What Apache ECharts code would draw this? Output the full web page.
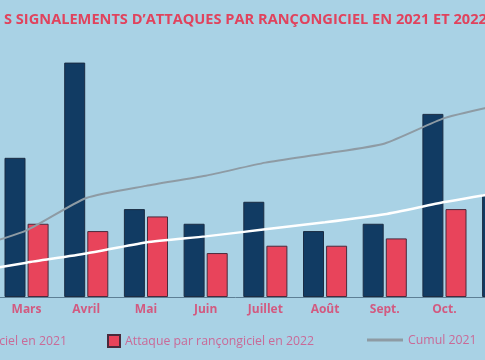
<!DOCTYPE html>
<html><head><meta charset="utf-8">
<script src="https://cdn.jsdelivr.net/npm/echarts@6/dist/echarts.min.js"></script>
<style>html,body{margin:0;padding:0;background:#a9d2e5;overflow:hidden;width:485px;height:360px;position:relative;}
#c{position:absolute;left:-63px;top:0;width:597px;height:360px;}</style>
</head><body><div id="c"></div>
<script>
const months = ['Févr.', 'Mars', 'Avril', 'Mai', 'Juin', 'Juillet', 'Août', 'Sept.', 'Oct.', 'Nov.'];
const attacks2021 = [null, 19, 32, 12, 10, 13, 9, 10, 25, 14];
const attacks2022 = [null, 10, 9, 11, 6, 7, 7, 8, 12, 10];
const cumul2021 = [47, 66, 98, 110, 120, 133, 142, 152, 177, 191];
const cumul2022 = [24, 34, 43, 54, 60, 67, 74, 82, 94, 104];
const titleText = 'S SIGNALEMENTS D’ATTAQUES PAR RANÇONGICIEL EN 2021 ET 2022';
const names = ['Attaque par rançongiciel en 2021', 'Attaque par rançongiciel en 2022', 'Cumul 2021', 'Cumul 2022'];

const X0 = 63; // offset of the chart canvas left of the window
const chart = echarts.init(document.getElementById('c'));
const legendText = {color: '#c96a97', fontSize: 12.3, fontFamily: 'Open Sans'};
chart.setOption({
  backgroundColor: '#a9d2e5',
  animation: false,
  title: {text: titleText, left: X0 - 1, top: 7, textStyle: {color: '#e0435d', fontSize: 14.6, fontWeight: 'bold', fontFamily: 'Open Sans'}},
  legend: [
    {data: [names[0]], left: X0 - 140, top: 334, padding: 0, itemWidth: 12, itemHeight: 12, icon: 'rect', textStyle: legendText},
    {data: [names[1]], left: X0 + 107, top: 334, padding: 0, itemWidth: 12, itemHeight: 12, icon: 'rect', textStyle: legendText},
    {data: [names[2]], left: X0 + 367, top: 334, padding: 0, itemWidth: 36, itemHeight: 3, icon: 'rect', textStyle: legendText},
    {data: [names[3]], left: X0 + 540, top: 334, padding: 0, itemWidth: 36, itemHeight: 3, icon: 'rect', textStyle: legendText}
  ],
  grid: {left: 0, right: 0, top: 4, bottom: 63, containLabel: false},
  xAxis: {type: 'category', data: months,
    axisLine: {lineStyle: {color: '#5d7f95', width: 1}}, axisTick: {show: false},
    axisLabel: {color: '#d25a80', fontWeight: 'bold', fontSize: 12, fontFamily: 'Open Sans', margin: 7}},
  yAxis: [
    {type: 'value', min: 0, max: 40, show: false, splitLine: {show: false}},
    {type: 'value', min: 0, max: 290, show: false, splitLine: {show: false}}
  ],
  series: [
    {name: names[0], type: 'bar', data: attacks2021, barWidth: 21, barGap: '10%',
      itemStyle: {color: '#113b63', borderColor: '#1b2d44', borderWidth: 1}},
    {name: names[1], type: 'bar', data: attacks2022, barWidth: 21,
      itemStyle: {color: '#e8445b', borderColor: '#4a2a3c', borderWidth: 1}},
    {name: names[2], type: 'line', yAxisIndex: 1, data: cumul2021, symbol: 'none', smooth: 0.2,
      lineStyle: {color: '#8e9ba4', width: 2}, itemStyle: {color: '#8e9ba4'}},
    {name: names[3], type: 'line', yAxisIndex: 1, data: cumul2022, symbol: 'none', smooth: 0.2,
      lineStyle: {color: '#ffffff', width: 2.5}, itemStyle: {color: '#ffffff'}}
  ]
});
</script></body></html>
